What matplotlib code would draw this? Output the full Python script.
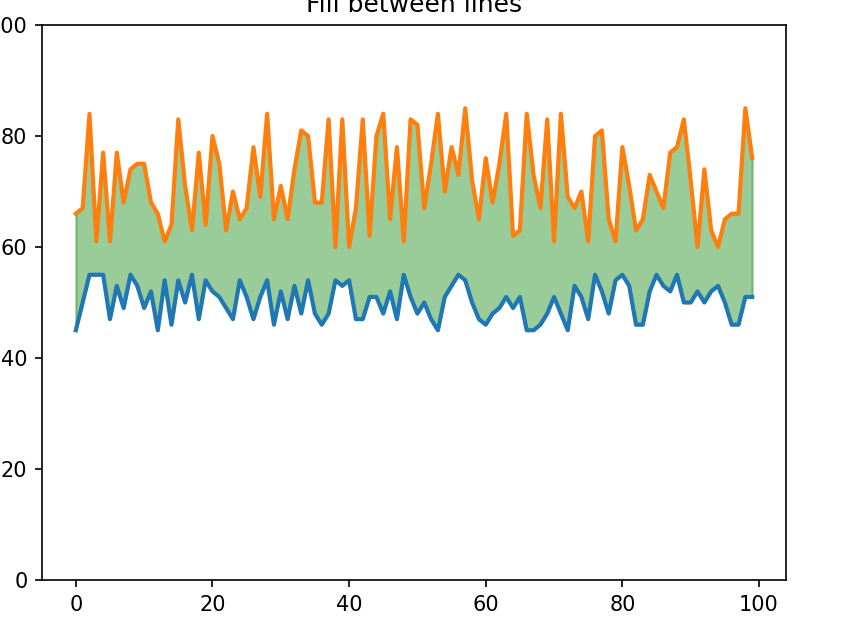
import matplotlib
matplotlib.use("Agg")
import matplotlib.pyplot as plt

x = list(range(100))
upper = [66, 67, 84, 61, 77, 61, 77, 68, 74, 75,
         75, 68, 66, 61, 64, 83, 71, 63, 77, 64,
         80, 75, 63, 70, 65, 67, 78, 69, 84, 65,
         71, 65, 74, 81, 80, 68, 68, 83, 60, 83,
         60, 67, 83, 62, 80, 84, 65, 78, 61, 83,
         82, 67, 75, 84, 70, 78, 73, 85, 72, 65,
         76, 68, 75, 84, 62, 63, 84, 73, 67, 83,
         61, 84, 69, 67, 70, 61, 80, 81, 65, 61,
         78, 71, 63, 65, 73, 70, 67, 77, 78, 83,
         72, 60, 74, 63, 60, 65, 66, 66, 85, 76]
lower = [45, 50, 55, 55, 55, 47, 53, 49, 55, 53,
         49, 52, 45, 54, 46, 54, 50, 55, 47, 54,
         52, 51, 49, 47, 54, 51, 47, 51, 54, 46,
         52, 47, 53, 48, 54, 48, 46, 48, 54, 53,
         54, 47, 47, 51, 51, 48, 52, 47, 55, 51,
         48, 50, 47, 45, 51, 53, 55, 54, 50, 47,
         46, 48, 49, 51, 49, 51, 45, 45, 46, 48,
         51, 48, 45, 53, 51, 47, 55, 52, 48, 54,
         55, 53, 46, 46, 52, 55, 53, 52, 55, 50,
         50, 52, 50, 52, 53, 50, 46, 46, 51, 51]

DPI = 150
fig = plt.figure(figsize=(841 / DPI, 617 / DPI), dpi=DPI)
ax = fig.add_axes([42 / 841, 37 / 617, 744 / 841, 555 / 617])
ax.plot(x, lower, color="#1f77b4", linewidth=2)
ax.plot(x, upper, color="#ff7f0e", linewidth=2)
ax.fill_between(x, lower, upper, color="green", alpha=0.4)
ax.set_ylim(0, 100)
ax.set_title("Fill between lines")
fig.savefig("out.png", dpi=DPI)
